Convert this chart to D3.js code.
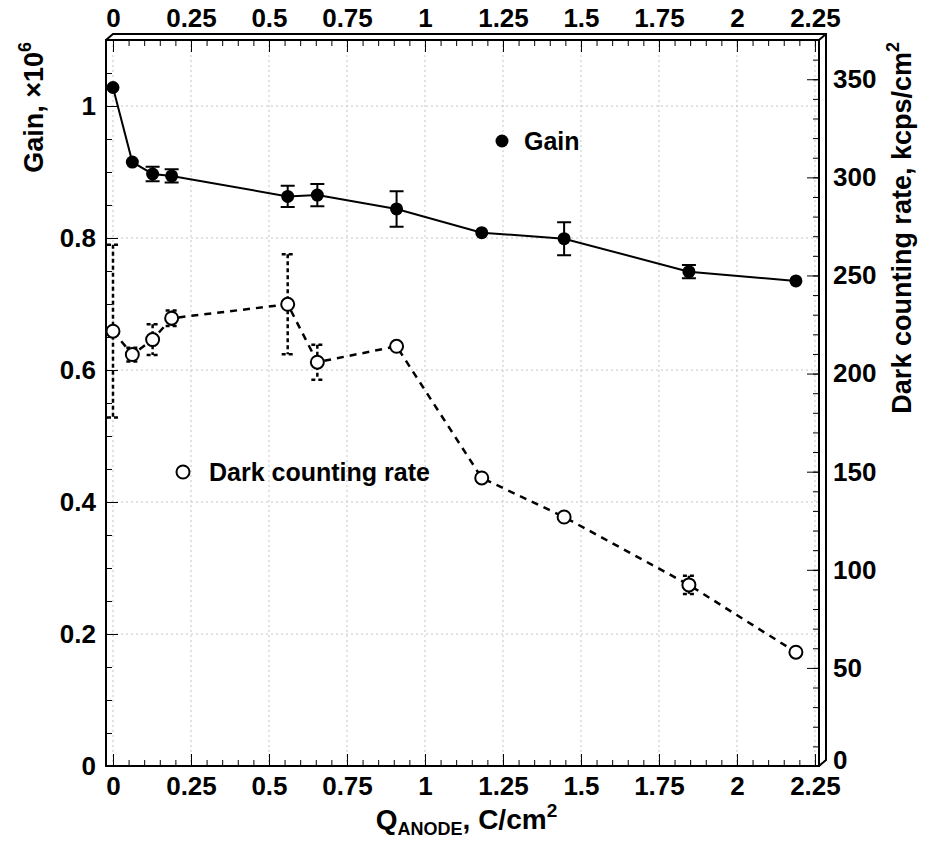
<!DOCTYPE html>
<html>
<head>
<meta charset="utf-8">
<script src="https://cdn.jsdelivr.net/npm/d3@7"></script>
<style>
  body { margin: 0; background: #fff; }
  text { font-family: "Liberation Sans", Arial, sans-serif; font-weight: bold; fill: #000; }
</style>
</head>
<body>
<div id="chart"></div>
<script>
// data
var qAnode   = [0, 0.062, 0.127, 0.188, 0.56, 0.655, 0.909, 1.182, 1.446, 1.846, 2.189];
var gain     = [1.028, 0.915, 0.897, 0.894, 0.863, 0.865, 0.844, 0.808, 0.799, 0.749, 0.735];
var gainErr  = [0, 0, 0.011, 0.010, 0.016, 0.017, 0.027, 0, 0.025, 0.010, 0];
var darkRate = [221.6, 209.7, 217.3, 228.2, 235.3, 205.8, 213.9, 146.8, 126.9, 92.3, 58.0];
var darkErr  = [44, 3.5, 7.8, 4, 25.5, 8.9, 0, 0, 0, 4.6, 0];

var xTicks     = [0, 0.25, 0.5, 0.75, 1, 1.25, 1.5, 1.75, 2, 2.25];
var gainTicks  = [0, 0.2, 0.4, 0.6, 0.8, 1];
var rateTicks  = [0, 50, 100, 150, 200, 250, 300, 350];

var svgWidth = 930;
var svgHeight = 843;

// frame position
var frame = { left: 106, top: 40, right: 819, bottom: 766 };

var svg = d3.select("#chart")
  .append("svg")
  .attr("width", svgWidth)
  .attr("height", svgHeight);

// scales
var x = d3.scaleLinear().domain([-0.0224, 2.263]).range([frame.left, frame.right]);
var yGain = d3.scaleLinear().domain([0, 1.1]).range([frame.bottom, frame.top]);
var yRate = d3.scaleLinear().domain([0, 370]).range([frame.bottom, frame.top]);

var xMinor = d3.range(0, 2.2501, 0.05).filter(v => x(v) < frame.right);
var gainMinor = d3.range(0, 1.1001, 0.05);
var rateMinor = d3.range(0, 370, 10);

// grid
var grid = svg.append("g")
  .attr("stroke", "#c4c4c4")
  .attr("stroke-width", 1)
  .attr("stroke-dasharray", "2,3");

grid.selectAll(".vg")
  .data(xTicks)
  .enter()
  .append("line")
  .attr("x1", d => x(d)).attr("x2", d => x(d))
  .attr("y1", frame.top).attr("y2", frame.bottom);

grid.selectAll(".hg")
  .data(gainTicks.slice(1))
  .enter()
  .append("line")
  .attr("x1", frame.left).attr("x2", frame.right)
  .attr("y1", d => yGain(d)).attr("y2", d => yGain(d));

// axes, ticks pointing into the frame
function styleAxis(g) {
  g.select(".domain").remove();
  g.selectAll("line").attr("stroke", "#000").attr("stroke-width", 1);
  g.selectAll("text").attr("font-size", "26px").attr("font-family", "Liberation Sans, Arial, sans-serif").attr("font-weight", "bold");
}

svg.append("g")
  .attr("transform", `translate(0, ${frame.bottom})`)
  .call(d3.axisBottom(x).tickValues(xTicks).tickSize(-12).tickPadding(11).tickFormat(d => d))
  .call(styleAxis);
svg.append("g")
  .attr("transform", `translate(0, ${frame.bottom})`)
  .call(d3.axisBottom(x).tickValues(xMinor).tickSize(-6).tickFormat(""))
  .call(styleAxis);

svg.append("g")
  .attr("transform", `translate(0, ${frame.top})`)
  .call(d3.axisTop(x).tickValues(xTicks).tickSize(-12).tickPadding(13).tickFormat(d => d))
  .call(styleAxis);
svg.append("g")
  .attr("transform", `translate(0, ${frame.top})`)
  .call(d3.axisTop(x).tickValues(xMinor).tickSize(-6).tickFormat(""))
  .call(styleAxis);

svg.append("g")
  .attr("transform", `translate(${frame.left}, 0)`)
  .call(d3.axisLeft(yGain).tickValues(gainTicks).tickSize(-12).tickPadding(10).tickFormat(d => +d.toFixed(1)))
  .call(styleAxis);
svg.append("g")
  .attr("transform", `translate(${frame.left}, 0)`)
  .call(d3.axisLeft(yGain).tickValues(gainMinor).tickSize(-6).tickFormat(""))
  .call(styleAxis);

var rightAxis = svg.append("g")
  .attr("transform", `translate(${frame.right}, 0)`)
  .call(d3.axisRight(yRate).tickValues(rateTicks).tickSize(-12).tickPadding(14).tickFormat(d => d))
  .call(styleAxis);
// the zero label sits a little higher, clear of the 2.25 label
rightAxis.selectAll(".tick text").filter(d => d === 0).attr("dy", "0.1em");
svg.append("g")
  .attr("transform", `translate(${frame.right}, 0)`)
  .call(d3.axisRight(yRate).tickValues(rateMinor).tickSize(-6).tickFormat(""))
  .call(styleAxis);

// frame with the 3d border on top and right
var dx = 7, dy = -6;
svg.append("rect")
  .attr("x", frame.left).attr("y", frame.top)
  .attr("width", frame.right - frame.left)
  .attr("height", frame.bottom - frame.top)
  .attr("fill", "none")
  .attr("stroke", "#000")
  .attr("stroke-width", 2);

svg.append("path")
  .attr("d", `M${frame.left},${frame.top} L${frame.left + dx},${frame.top + dy}
              L${frame.right + dx},${frame.top + dy} L${frame.right + dx},${frame.bottom + dy}
              L${frame.right},${frame.bottom}
              M${frame.right},${frame.top} L${frame.right + dx},${frame.top + dy}`)
  .attr("fill", "none")
  .attr("stroke", "#000")
  .attr("stroke-width", 2);

var gainData = qAnode.map((q, i) => ({ q: q, v: gain[i], e: gainErr[i] }));
var darkData = qAnode.map((q, i) => ({ q: q, v: darkRate[i], e: darkErr[i] }));

// dark counting rate: dashed line, error bars, open circles
var darkLine = d3.line().x(d => x(d.q)).y(d => yRate(d.v));

svg.append("path")
  .datum(darkData)
  .attr("d", darkLine)
  .attr("fill", "none")
  .attr("stroke", "#000")
  .attr("stroke-width", 2.5)
  .attr("stroke-dasharray", "7,6");

var darkErrG = svg.append("g")
  .attr("stroke", "#000")
  .attr("stroke-width", 2.5)
  .attr("stroke-dasharray", "4,3");

darkErrG.selectAll(".bar")
  .data(darkData.filter(d => d.e > 0))
  .enter()
  .append("path")
  .attr("fill", "none")
  .attr("d", d => {
    var cx = x(d.q), y1 = yRate(d.v + d.e), y2 = yRate(d.v - d.e);
    return `M${cx},${y1} L${cx},${y2} M${cx - 6},${y1} L${cx + 6},${y1} M${cx - 6},${y2} L${cx + 6},${y2}`;
  });

svg.selectAll(".dark")
  .data(darkData)
  .enter()
  .append("circle")
  .attr("cx", d => x(d.q))
  .attr("cy", d => yRate(d.v))
  .attr("r", 6.5)
  .attr("fill", "#fff")
  .attr("stroke", "#000")
  .attr("stroke-width", 2);

// gain: solid line, error bars, filled circles
var gainLine = d3.line().x(d => x(d.q)).y(d => yGain(d.v));

svg.append("path")
  .datum(gainData)
  .attr("d", gainLine)
  .attr("fill", "none")
  .attr("stroke", "#000")
  .attr("stroke-width", 2);

svg.append("g")
  .selectAll("path")
  .data(gainData.filter(d => d.e > 0))
  .enter()
  .append("path")
  .attr("fill", "none")
  .attr("stroke", "#000")
  .attr("stroke-width", 2)
  .attr("d", d => {
    var cx = x(d.q), y1 = yGain(d.v + d.e), y2 = yGain(d.v - d.e);
    return `M${cx},${y1} L${cx},${y2} M${cx - 7},${y1} L${cx + 7},${y1} M${cx - 7},${y2} L${cx + 7},${y2}`;
  });

svg.selectAll(".gain")
  .data(gainData)
  .enter()
  .append("circle")
  .attr("cx", d => x(d.q))
  .attr("cy", d => yGain(d.v))
  .attr("r", 6.5)
  .attr("fill", "#000");

// legends
svg.append("circle").attr("cx", 502).attr("cy", 141).attr("r", 6.5).attr("fill", "#000");
svg.append("text").attr("x", 524).attr("y", 150).attr("font-size", "25px").text("Gain");

svg.append("circle").attr("cx", 183).attr("cy", 472).attr("r", 6.5)
  .attr("fill", "#fff").attr("stroke", "#000").attr("stroke-width", 2);
svg.append("text").attr("x", 209).attr("y", 481).attr("font-size", "25px").text("Dark counting rate");

// axis titles
var gainTitle = svg.append("text")
  .attr("transform", `translate(43, ${frame.top + 2}) rotate(-90)`)
  .attr("text-anchor", "end")
  .attr("font-size", "27px");
gainTitle.append("tspan").text("Gain, \u00d710");
gainTitle.append("tspan").attr("dy", -12).attr("font-size", "18px").text("6");

var rateTitle = svg.append("text")
  .attr("transform", `translate(911, ${frame.top + 2}) rotate(-90)`)
  .attr("text-anchor", "end")
  .attr("font-size", "27px");
rateTitle.append("tspan").text("Dark counting rate, kcps/cm");
rateTitle.append("tspan").attr("dy", -12).attr("font-size", "18px").text("2");

var xTitle = svg.append("text")
  .attr("x", (frame.left + frame.right) / 2 + 4)
  .attr("y", 829)
  .attr("text-anchor", "middle")
  .attr("font-size", "28px");
xTitle.append("tspan").text("Q");
xTitle.append("tspan").attr("dy", 6).attr("font-size", "18px").text("ANODE");
xTitle.append("tspan").attr("dy", -6).text(", C/cm");
xTitle.append("tspan").attr("dy", -12).attr("font-size", "19px").text("2");
</script>
</body>
</html>
